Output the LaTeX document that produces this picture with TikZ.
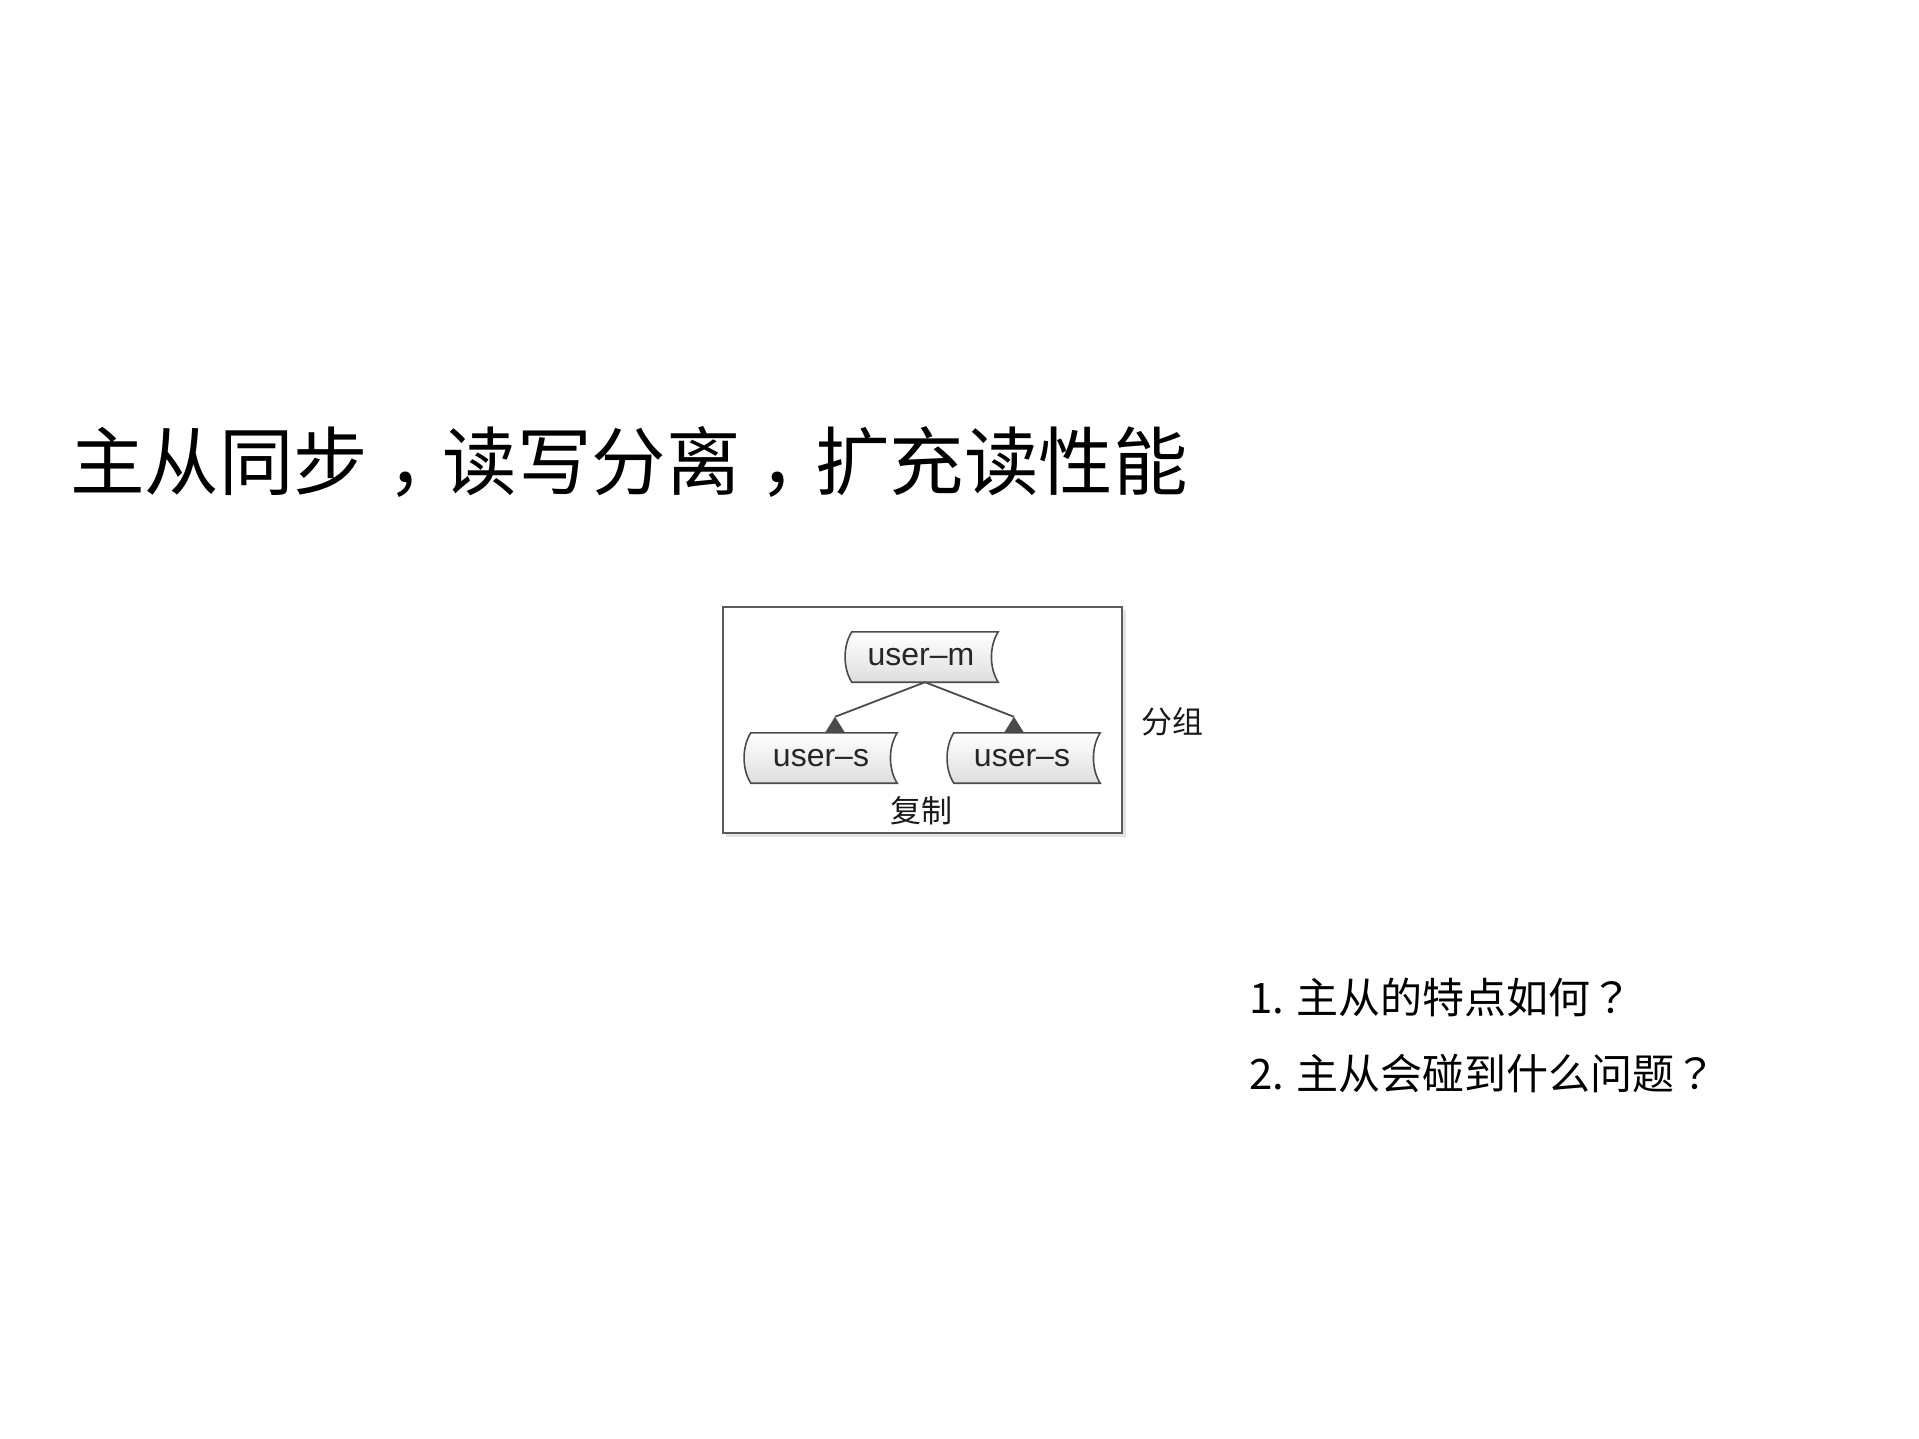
\documentclass[tikz,border=0pt]{standalone}
\usepackage{fontspec}
\setmainfont{Liberation Sans}
\newfontfamily\cjk{Noto Sans CJK SC}
\newfontfamily\cjktc{Noto Sans CJK TC}
\usetikzlibrary{calc}
\definecolor{edgegray}{HTML}{4A4A4A}
\definecolor{boxgray}{HTML}{5A5A5A}
\definecolor{shadegray}{HTML}{D0D0D0}
\newcommand\tapeshape[2]{%
  \path[#2] (#1.north west) -- (#1.north east)
    .. controls ($(#1.north east)+(-9,14)$) and ($(#1.south east)+(-9,-14)$) .. (#1.south east)
    -- (#1.south west)
    .. controls ($(#1.south west)+(-9,-14)$) and ($(#1.north west)+(-9,14)$) .. (#1.north west) -- cycle;}
\newcommand\fwc{\kern0.26em，\kern-0.26em}
\newcommand\fwq{{\cjktc ？}}
\begin{document}
\begin{tikzpicture}[x=1pt,y=-1pt,
  tapebox/.style={draw=none, minimum width=146pt, minimum height=50pt, inner sep=0pt,
    font=\fontsize{32}{36}\selectfont, text=black!85},
  tapefill/.style={draw=edgegray, line width=1.6pt, top color=white, bottom color=black!13},
  groupbox/.style={draw=boxgray, line width=2.5pt, minimum width=399pt, minimum height=226pt, inner sep=0pt},
  lbl/.style={font=\cjk\fontsize{31}{34}\selectfont, inner sep=0pt, text=black!90},
  conn/.style={draw=edgegray, line width=1.8pt},
  tipfill/.style={fill=edgegray},
  titlefont/.style={font=\cjk\fontsize{74.5}{80}\selectfont, anchor=base west, inner sep=0pt},
  qfont/.style={font=\cjk\fontsize{42}{48}\selectfont, anchor=base west, inner sep=0pt}
]
\useasboundingbox[fill=white] (0,0) rectangle (1919,1439);

% title
\node[titlefont] (title) at (70,489) {主从同步\fwc 读写分离\fwc 扩充读性能};

% group box with shadow
\fill[shadegray!60] (726,610) rectangle (1126,837);
\node[groupbox, fill=white] (grp) at (922.5,720) {};

% nodes
\node[tapebox] (m) at (925,657) {};
\node[tapebox] (sl) at (824,758) {};
\node[tapebox] (sr) at (1027,758) {};
\begin{scope}[shift={(3,3)}]
\tapeshape{m}{fill=shadegray}
\tapeshape{sl}{fill=shadegray}
\tapeshape{sr}{fill=shadegray}
\end{scope}
\tapeshape{m}{tapefill}
\tapeshape{sl}{tapefill}
\tapeshape{sr}{tapefill}
\node[tapebox] (mt) at (921,657) {user–m};
\node[tapebox] (slt) at (821,758) {user–s};
\node[tapebox] (srt) at (1022,758) {user–s};

% connectors
\coordinate (tl) at ($(sl.north)+(11,-16)$);
\coordinate (tr) at ($(sr.north)+(-13,-16)$);
\draw[conn] (m.south) -- (tl);
\draw[conn] (m.south) -- (tr);
\fill[tipfill] (tl) -- ++(-10,16) -- ++(20,0) -- cycle;
\fill[tipfill] (tr) -- ++(-10,16) -- ++(20,0) -- cycle;

% labels
\node[lbl] (fz) at (1172,722) {分组};
\node[lbl] (fzh) at (921,811) {复制};

% questions
\node[qfont] (q1) at (1249,1013) {1. 主从的特点如何\fwq};
\node[qfont] (q2) at (1249,1089) {2. 主从会碰到什么问题\fwq};
\end{tikzpicture}
\end{document}
